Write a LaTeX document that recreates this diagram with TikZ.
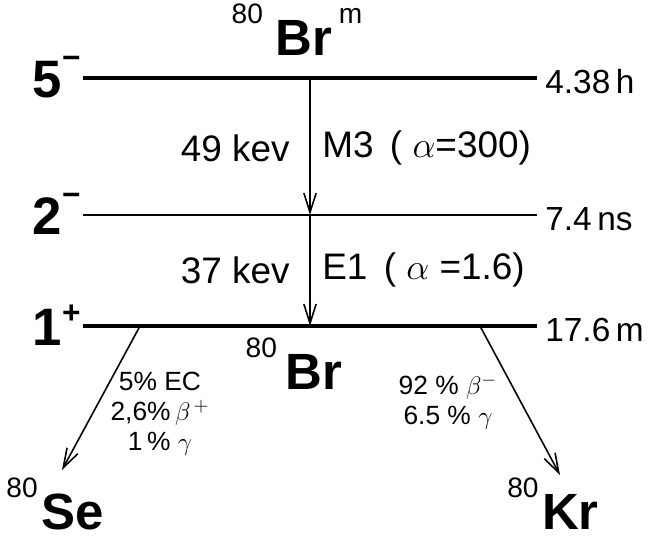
\documentclass[tikz,border=0pt]{standalone}
\usepackage{fontspec}
\setmainfont{Liberation Sans}
\usetikzlibrary{arrows.meta,positioning}
\newcommand{\isotope}[4][6pt]{\raisebox{0.62em}{\fontsize{16}{16}\selectfont\mdseries #2}\hspace{#1}{\bfseries #3}\raisebox{0.62em}{\fontsize{16}{16}\selectfont\mdseries #4}}

\begin{document}
\begin{tikzpicture}[x=0.02cm,y=-0.02cm,>={Straight Barb[length=11pt,width=7pt]},
  spin/.style={anchor=base east,inner sep=0pt,font=\fontsize{30}{30}\selectfont\bfseries},
  life/.style={anchor=base west,inner sep=0pt,font=\fontsize{19}{19}\selectfont},
  trans/.style={inner sep=0pt,font=\fontsize{21}{21}\selectfont},
  branch/.style={inner sep=0pt,align=center,font=\fontsize{15}{17}\selectfont},
  nuc/.style={anchor=base,inner sep=0pt,font=\fontsize{29}{29}\selectfont},
  decay/.style={->,line width=0.9pt}]
\useasboundingbox (0,0) rectangle (648,538);
% levels of 80Br
\foreach \nm/\y/\w/\sp/\sg/\r/\t in {top/78/2.2pt/5/−/16pt/4.38\,h,mid/215/1.2pt/2/−/16pt/7.4\,ns,low/326/2.2pt/1/+/12pt/17.6\,m} {
  \coordinate (\nm L) at (83,\y);
  \coordinate (\nm R) at (537,\y);
  \draw[line width=\w] (\nm L) -- (\nm R);
  \node[spin] (spin\nm) at (81,\y+19) {\sp\raisebox{\r}{\fontsize{18}{18}\selectfont\sg}};
  \node[life] (life\nm) at (545,\y+15) {\t};
}
% nuclides
\node[nuc] (brm) at (297,55) {\isotope[7pt]{80}{Br}{\hspace{4pt}m}};
\node[nuc] (brg) at (294,389) {\isotope[5pt]{80}{Br}{}};
\node[nuc] (se) at (55,529) {\isotope[2pt]{80}{Se}{}};
\node[nuc] (kr) at (553,529) {\isotope[2pt]{80}{Kr}{}};
% gamma cascade
\coordinate (g1s) at (310,78);
\coordinate (g1e) at (310,215);
\coordinate (g2e) at (310,326);
\draw[decay] (g1s) -- (g1e);
\draw[decay] (g1e) -- (g2e);
\node[trans,anchor=east] (eg1) at (290,148) {49 kev};
\node[trans,anchor=west] (mg1) at (322,148) {M3 \,( $\alpha$=300)};
\node[trans,anchor=east] (eg2) at (290,270) {37 kev};
\node[trans,anchor=west] (mg2) at (322,270) {E1 \,( $\alpha$ =1.6)};
% beta branches
\coordinate (ecs) at (140,326);
\coordinate (ece) at (62,470);
\coordinate (bms) at (480,326);
\coordinate (bme) at (560,475);
\draw[decay] (ecs) -- (ece);
\draw[decay] (bms) -- (bme);
\node[branch] (ecl) at (160,414) {5\% EC\\2,6\%\,$\beta^{\,+}$\\1\,\% $\gamma$};
\node[branch] (bml) at (448,402) {92 \% $\beta^-$\\6.5 \% $\gamma$};
\end{tikzpicture}
\end{document}
